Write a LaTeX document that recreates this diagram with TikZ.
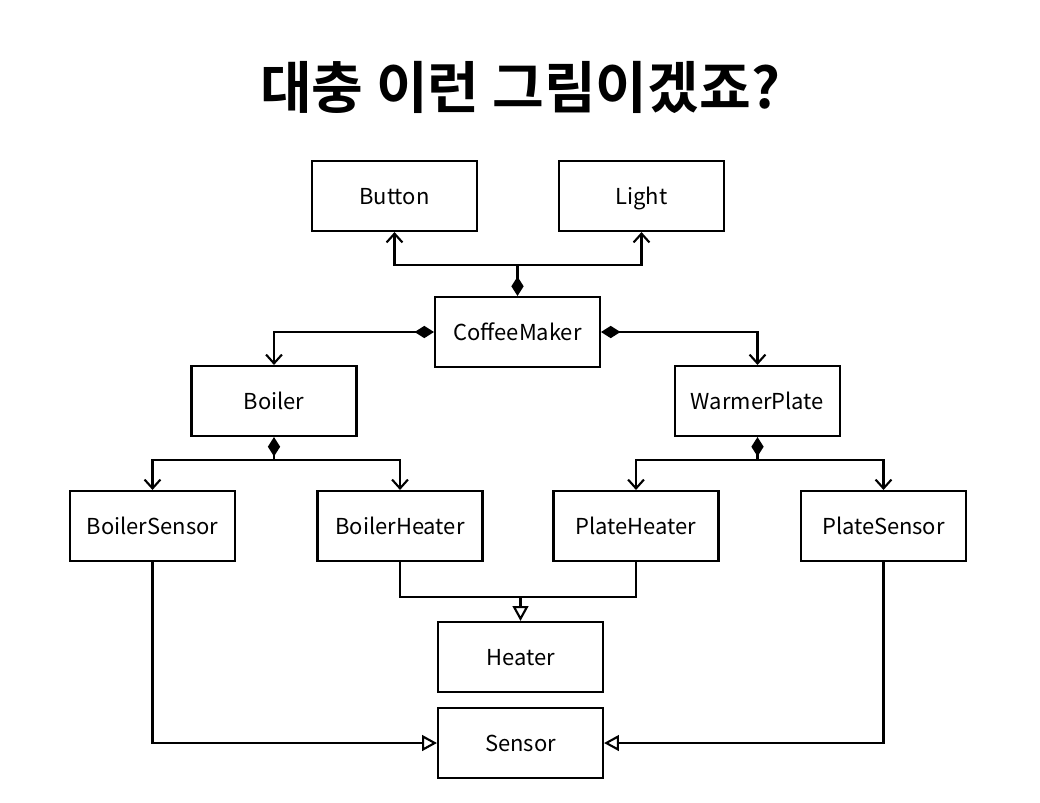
\documentclass[tikz,border=0pt]{standalone}
\usepackage{fontspec}
\setmainfont{Noto Sans CJK KR}
\newfontfamily\titlefont{Noto Sans CJK KR Bold}
\usetikzlibrary{arrows.meta}
\tikzset{
  cls/.style={draw=black, line width=1.2pt, minimum width=3.3cm, minimum height=1.4cm, inner sep=0pt, text height=10.4pt, text depth=0.5pt, font=\fontsize{12.5pt}{15pt}\selectfont, fill=white},
  conn/.style={line width=1.2pt},
  nav/.style={conn, -{Straight Barb[length=5pt,width=9pt,line width=1.2pt]}},
  gen/.style={conn, -{Triangle[open,length=8.5pt,width=9pt,fill=white,line width=1.2pt]}},
  comp/.style={conn, {Diamond[length=11pt,width=7pt]}-},
  compnav/.style={conn, {Diamond[length=11pt,width=7pt]}-{Straight Barb[length=5pt,width=9pt,line width=1.2pt]}},
}
\begin{document}
\begin{tikzpicture}[x=0.02cm,y=-0.02cm]
\useasboundingbox (0,0) rectangle (1040,802);
\node[font=\titlefont\fontsize{32pt}{38pt}\selectfont] (title) at (520,87) {대충 이런 그림이겠죠?};
\node[cls] (button) at (394.5,196) {Button};
\node[cls] (light) at (641.5,196) {Light};
\node[cls] (cm) at (517.5,332) {CoffeeMaker};
\node[cls] (boiler) at (274,401) {Boiler};
\node[cls] (wp) at (757.5,401) {WarmerPlate};
\node[cls] (bs) at (152.5,526) {BoilerSensor};
\node[cls] (bh) at (400,526) {BoilerHeater};
\node[cls] (ph) at (636,526) {PlateHeater};
\node[cls] (ps) at (883.5,526) {PlateSensor};
\node[cls] (heater) at (520.5,657) {Heater};
\node[cls] (sensor) at (520.5,743) {Sensor};
% coffee maker up
\coordinate (j1) at (517.5,265);
\draw[comp] (cm.north) -- (j1);
\draw[nav] (j1) -| (button.south);
\draw[nav] (j1) -| (light.south);
% coffee maker sides
\draw[compnav] (cm.west) -| (boiler.north);
\draw[compnav] (cm.east) -| (wp.north);
% boiler down
\coordinate (j2) at (274,460);
\draw[comp] (boiler.south) -- (j2);
\draw[nav] (j2) -| (bs.north);
\draw[nav] (j2) -| (bh.north);
% warmer plate down
\coordinate (j3) at (757.5,460);
\draw[comp] (wp.south) -- (j3);
\draw[nav] (j3) -| (ph.north);
\draw[nav] (j3) -| (ps.north);
% heaters generalisation
\coordinate (j4) at (520.5,597);
\draw[conn] (bh.south) |- (j4);
\draw[conn] (ph.south) |- (j4);
\draw[gen] (j4) -- (heater.north);
% sensors
\draw[gen] (bs.south) |- (sensor.west);
\draw[gen] (ps.south) |- (sensor.east);
\end{tikzpicture}
\end{document}
